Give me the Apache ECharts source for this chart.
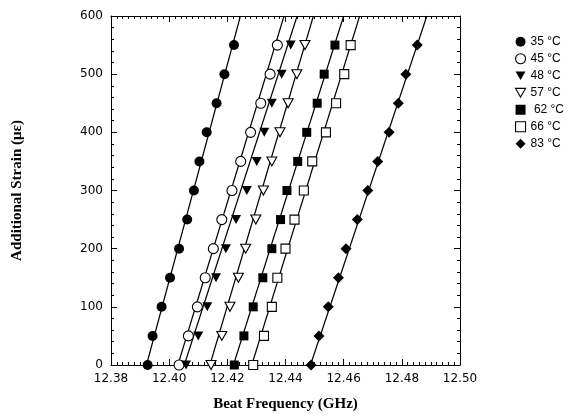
<!DOCTYPE html>
<html>
<head>
<meta charset="utf-8">
<script src="https://cdn.jsdelivr.net/npm/echarts@6/dist/echarts.min.js"></script>
<style>
  html, body { margin: 0; padding: 0; background: #fff; }
  #main { width: 574px; height: 419px; }
</style>
</head>
<body>
<div id="main"></div>
<script>
// strain steps (με) shared by every temperature
var strain = [0, 50, 100, 150, 200, 250, 300, 350, 400, 450, 500, 550];

// beat frequency (GHz), one list per temperature
var f35 = [12.3926, 12.3943, 12.3974, 12.4003, 12.4034, 12.4062, 12.4085, 12.4104, 12.4129, 12.4163, 12.4190, 12.4223];
var f45 = [12.4034, 12.4066, 12.4097, 12.4124, 12.4152, 12.4181, 12.4216, 12.4246, 12.4280, 12.4315, 12.4347, 12.4372];
var f48 = [12.4058, 12.4100, 12.4131, 12.4161, 12.4195, 12.4230, 12.4267, 12.4301, 12.4327, 12.4353, 12.4387, 12.4418];
var f57 = [12.4144, 12.4181, 12.4209, 12.4238, 12.4263, 12.4298, 12.4324, 12.4353, 12.4381, 12.4409, 12.4439, 12.4467];
var f62 = [12.4224, 12.4257, 12.4289, 12.4322, 12.4353, 12.4383, 12.4405, 12.4442, 12.4473, 12.4509, 12.4533, 12.4570];
var f66 = [12.4289, 12.4326, 12.4353, 12.4372, 12.4400, 12.4431, 12.4463, 12.4492, 12.4539, 12.4574, 12.4602, 12.4624];
var f83 = [12.4488, 12.4515, 12.4547, 12.4582, 12.4608, 12.4647, 12.4683, 12.4717, 12.4756, 12.4788, 12.4814, 12.4853];

// straight fitted lines: frequency where each line meets strain 0 and strain 600
var fitStrain = [0, 600];
var fit35 = [12.3922, 12.4245];
var fit45 = [12.4030, 12.4395];
var fit48 = [12.4052, 12.4440];
var fit57 = [12.4140, 12.4496];
var fit62 = [12.4221, 12.4600];
var fit66 = [12.4284, 12.4655];
var fit83 = [12.4486, 12.4886];

var names = ['35 °C', '45 °C', '48 °C', '57 °C', ' 62 °C', '66 °C', '83 °C'];

var chart = echarts.init(document.getElementById('main'));

function pairs(xs, ys) {
  return xs.map(function (x, i) { return [x, ys[i]]; });
}

var downTri = 'path://M0,0L10,0L5,8.66Z';
var filled = { color: '#000', opacity: 1 };
var hollow = { color: '#fff', borderColor: '#000', borderWidth: 1.1, opacity: 1 };

var marks = [
  { data: f35, fit: fit35, symbol: 'circle', size: 10, style: filled },
  { data: f45, fit: fit45, symbol: 'circle', size: 10, style: hollow },
  { data: f48, fit: fit48, symbol: downTri, size: [10, 9], style: filled },
  { data: f57, fit: fit57, symbol: downTri, size: [10, 9], style: hollow },
  { data: f62, fit: fit62, symbol: 'rect', size: 9, style: filled },
  { data: f66, fit: fit66, symbol: 'rect', size: 9, style: hollow },
  { data: f83, fit: fit83, symbol: 'diamond', size: 11, style: filled }
];

var series = [];
marks.forEach(function (m, i) {
  series.push({
    name: 'fit' + i,
    type: 'line',
    data: pairs(m.fit, fitStrain),
    symbol: 'none',
    silent: true,
    z: 2,
    lineStyle: { color: '#000', width: 1.2 }
  });
});
marks.forEach(function (m, i) {
  series.push({
    name: names[i],
    type: 'scatter',
    data: pairs(m.data, strain),
    symbol: m.symbol,
    symbolSize: m.size,
    z: 5,
    itemStyle: m.style
  });
});

var legendItems = names.map(function (n, i) {
  return { name: n, icon: marks[i].symbol };
});

var tickFont = { color: '#000', fontFamily: 'DejaVu Sans', fontSize: 12 };
var titleFont = { color: '#000', fontFamily: 'Liberation Serif', fontWeight: 'bold', fontSize: 15 };

function axisBase(extra) {
  var a = {
    axisLine: { onZero: false, lineStyle: { color: '#000', width: 1 } },
    axisTick: { inside: true, length: 6, lineStyle: { color: '#000' } },
    splitLine: { show: false }
  };
  for (var k in extra) a[k] = extra[k];
  return a;
}

var option = {
  animation: false,
  backgroundColor: '#fff',
  grid: { left: 111, right: 114, top: 16, bottom: 54 },
  legend: {
    data: legendItems,
    orient: 'vertical',
    left: 510,
    top: 30,
    itemWidth: 10,
    itemHeight: 10,
    itemGap: 3.5,
    itemStyle: { borderWidth: 1.1 },
    textStyle: { color: '#000', fontFamily: 'Liberation Sans', fontSize: 12, lineHeight: 13.5 }
  },
  xAxis: [
    axisBase({
      type: 'value', min: 12.38, max: 12.50, interval: 0.02,
      minorTick: { show: true, splitNumber: 10, length: 3, lineStyle: { color: '#000' } },
      axisLabel: Object.assign({ margin: 8, formatter: function (v) { return v.toFixed(2); } }, tickFont),
      name: 'Beat Frequency (GHz)',
      nameLocation: 'middle',
      nameGap: 32,
      nameTextStyle: titleFont
    }),
    axisBase({
      type: 'value', position: 'top', min: 12.38, max: 12.50, interval: 0.02,
      minorTick: { show: true, splitNumber: 10, length: 3, lineStyle: { color: '#000' } },
      axisLabel: { show: false }
    })
  ],
  yAxis: [
    axisBase({
      type: 'value', min: 0, max: 600, interval: 100,
      minorTick: { show: true, splitNumber: 5, length: 3, lineStyle: { color: '#000' } },
      axisLabel: Object.assign({ margin: 8 }, tickFont),
      name: 'Additional Strain (με)',
      nameLocation: 'middle',
      nameGap: 86,
      nameTextStyle: titleFont
    }),
    axisBase({
      type: 'value', position: 'right', min: 0, max: 600, interval: 100,
      minorTick: { show: true, splitNumber: 5, length: 3, lineStyle: { color: '#000' } },
      axisLabel: { show: false }
    })
  ],
  series: series
};

chart.setOption(option);
</script>
</body>
</html>
